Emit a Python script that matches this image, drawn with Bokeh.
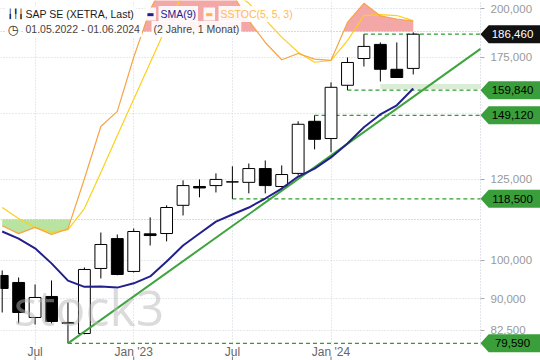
import numpy as np
from bokeh.plotting import figure
from bokeh.models import (Range1d, LinearScale, FixedTicker, NumeralTickFormatter, Label)
from bokeh.core.properties import value
from bokeh.embed import file_html
from bokeh.resources import INLINE

# ---------------- data (monthly candles, May 2022 .. Jun 2024) ----------------
months = ["2022-05", "2022-06", "2022-07", "2022-08", "2022-09", "2022-10", "2022-11",
          "2022-12", "2023-01", "2023-02", "2023-03", "2023-04", "2023-05", "2023-06",
          "2023-07", "2023-08", "2023-09", "2023-10", "2023-11", "2023-12", "2024-01",
          "2024-02", "2024-03", "2024-04", "2024-05", "2024-06"]
opens = [95950, 94120, 85470, 90560, 84300, 81780, 97820, 106200, 97020, 107600, 107700,
         116400, 122600, 122900, 124100, 124000, 128800, 122600, 127100, 146700, 139900,
         162000, 174400, 181300, 169300, 169700]
highs = [97280, 95420, 93600, 94640, 89070, 98090, 108000, 107400, 109200, 112600, 116400,
         124700, 125000, 127100, 129600, 130600, 131700, 129900, 146700, 149120, 163300,
         174900, 186460, 182300, 182300, 187400]
lows = [86650, 84070, 83840, 84070, 79590, 81600, 95160, 96000, 96750, 104200, 105400,
        113200, 119000, 120600, 118500, 120300, 120300, 122300, 126400, 135800, 134700,
        159840, 170600, 163700, 165500, 166900]
closes = [92580, 86650, 90310, 84530, 84100, 97550, 104500, 96220, 108300, 107100, 115700,
          122900, 122100, 125000, 124200, 128800, 122900, 126700, 145500, 139600, 161100,
          172500, 180300, 169300, 165500, 186460]
sma9 = [108300, 106200, 103400, 99200, 94600, 93000, 93100, 92800, 93900, 95700, 99700,
        104200, 107700, 111300, 113500, 115700, 118600, 121900, 126000, 128800, 132800,
        138000, 144300, 149500, 153300, 160600]
stoch_k = [18, 15.5, 17.5, 15.2, 17, 33, 49.7, 54.5, 71.8, 87, 97, 98, 96, 96, 92, 83.5,
           76.5, 71, 73, 71.2, 70.8, 82.9, 89, 85, 84, 83.3]
stoch_d = [23.8, 20.3, 17.5, 15.9, 16.8, 23.5, 35, 46.8, 58.4, 70, 81.7, 92, 96, 95, 93, 89,
           83.8, 78.2, 73.4, 70.2, 70.8, 77.1, 85.1, 85.4, 85.1, 83.5]
stoch_upper, stoch_lower = 80, 20

x_tick_idx = [2, 8, 14, 20]
x_tick_labels = ["Jul", "Jan '23", "Jul", "Jan '24"]
y_label_ticks = [82500, 90000, 100000, 125000, 175000, 200000]
y_grid_ticks = [82500, 90000, 100000, 125000, 150000, 175000, 200000]

levels = [186460, 159840, 149120, 118500, 79590]
level_start = [22, 21, 19, 14, 4]
level_tag_fill = ["#111111", "#3a9e3a", "#3a9e3a", "#3a9e3a", "#3a9e3a"]
level_tag_text = ["white", "black", "black", "black", "black"]

trend_x = [4, 29.09]
trend_y = [79590, 179100]

band_x = [23]
band_lo = [160300]
band_hi = [162600]

# ---------------- figure ----------------
idx = list(range(len(months)))
X_LEFT, X_AXIS, X_MAX = -0.103, 29.09, 32.74
P_LOW, P_AXIS, P_HIGH = 75920, 79130, 204600
ST_LOW, ST_HIGH = -25.0, 89.9
FONT = "Liberation Sans"

p = figure(width=540, height=360, x_range=Range1d(X_LEFT, X_MAX),
           y_range=Range1d(P_LOW, P_HIGH), y_axis_type="log", y_axis_location="right",
           output_backend="svg", toolbar_location=None,
           min_border_left=0, min_border_top=0, min_border_right=0, min_border_bottom=0)
p.outline_line_color = None
p.extra_y_ranges = {"st": Range1d(ST_LOW, ST_HIGH)}
p.extra_y_scales = {"st": LinearScale()}

p.yaxis.fixed_location = X_AXIS
p.yaxis.bounds = (P_AXIS, P_HIGH)
p.yaxis.ticker = FixedTicker(ticks=y_label_ticks)
p.ygrid.ticker = FixedTicker(ticks=y_grid_ticks)
p.yaxis.formatter = NumeralTickFormatter(format="0,0")
p.yaxis.major_label_text_font = FONT
p.yaxis.major_label_text_font_size = "11.5px"
p.yaxis.major_label_text_color = "#999999"
p.yaxis.axis_line_color = "#c4c8d8"
p.yaxis.axis_line_dash = "1 2"
p.yaxis.major_tick_in = 0
p.yaxis.major_tick_out = 4
p.yaxis.major_tick_line_color = "#aaaaaa"
p.yaxis.minor_tick_line_color = None
p.yaxis.major_label_standoff = 6

xt = FixedTicker(ticks=x_tick_idx)
p.xaxis.fixed_location = P_AXIS
p.xaxis.ticker = xt
p.xgrid.ticker = xt
p.xaxis.major_label_overrides = {i: s for i, s in zip(x_tick_idx, x_tick_labels)}
p.xaxis.major_label_text_font = FONT
p.xaxis.major_label_text_font_size = "12px"
p.xaxis.major_label_text_color = "#666666"
p.xaxis.axis_line_color = None
p.xaxis.major_tick_line_color = None
p.xaxis.major_tick_in = 0
p.xaxis.major_tick_out = 0
p.xaxis.minor_tick_line_color = None
p.xaxis.major_label_standoff = 0

for g in (p.xgrid, p.ygrid):
    g.grid_line_color = "#cdd3dd"
    g.grid_line_dash = "1 2"
    g.grid_line_width = 1


def band_polys(xv, yv, level, above):
    px, py, cx, cy = [], [], [], []
    inside = (lambda v: v > level) if above else (lambda v: v < level)
    for i in range(len(xv)):
        if inside(yv[i]):
            if not cx:
                if i > 0:
                    t = (level - yv[i - 1]) / (yv[i] - yv[i - 1])
                    cx.append(xv[i - 1] + t * (xv[i] - xv[i - 1]))
                else:
                    cx.append(xv[i])
                cy.append(level)
            cx.append(xv[i]); cy.append(yv[i])
        elif cx:
            t = (level - yv[i - 1]) / (yv[i] - yv[i - 1])
            cx.append(xv[i - 1] + t * (xv[i] - xv[i - 1])); cy.append(level)
            px.append(cx); py.append(cy); cx, cy = [], []
    if cx:
        cx.append(xv[-1]); cy.append(level)
        px.append(cx); py.append(cy)
    return px, py


# stochastic (overlay scale)
rx, ry = band_polys(idx, stoch_k, stoch_upper, True)
p.patches(rx, ry, y_range_name="st", fill_color="#f08a8a", fill_alpha=0.75, line_color=None)
gx, gy = band_polys(idx, stoch_k, stoch_lower, False)
p.patches(gx, gy, y_range_name="st", fill_color="#a8dc8a", fill_alpha=0.8, line_color=None)
p.hspan(y=[stoch_upper], y_range_name="st", line_color="#92cc92", line_dash="1 2", line_width=1)
p.hspan(y=[stoch_lower], y_range_name="st", line_color="#f29a9a", line_dash="1 2", line_width=1)

# white areas right of the price axis and below the time axis (hide grid there)
p.quad(left=[X_AXIS, X_LEFT], right=[X_MAX, X_MAX], bottom=[P_LOW, P_LOW],
       top=[P_HIGH, P_AXIS], fill_color="white", line_color=None)

# small tick marks along the very bottom edge
p.segment(x0=x_tick_idx, y0=[P_LOW] * len(x_tick_idx), x1=x_tick_idx,
          y1=[P_LOW * np.exp(4 / 363.0)] * len(x_tick_idx), line_color="#777777", line_width=1)

p.line(idx, stoch_d, y_range_name="st", line_color="#ffcf1a", line_width=1.2)
p.line(idx, stoch_k, y_range_name="st", line_color="#f6a445", line_width=1.2)

# support band and level lines
p.quad(left=band_x, right=[X_AXIS], bottom=band_lo, top=band_hi,
       fill_color="#d6ead0", fill_alpha=0.9, line_color=None)
p.segment(x0=level_start, y0=levels, x1=[X_AXIS] * len(levels), y1=levels,
          line_color="#2f9e2f", line_dash="4 3", line_width=1.2)

# candles
inc = [i for i in idx if closes[i] >= opens[i]]
dec = [i for i in idx if closes[i] < opens[i]]
p.segment(x0=idx, y0=highs, x1=idx, y1=lows, line_color="black", line_width=1)
p.vbar(x=inc, width=0.72, top=[closes[i] for i in inc], bottom=[opens[i] for i in inc],
       fill_color="white", line_color="black", line_width=1)
p.vbar(x=dec, width=0.72, top=[opens[i] for i in dec], bottom=[closes[i] for i in dec],
       fill_color="black", line_color="black", line_width=1)

# trend line and SMA
p.line(trend_x, trend_y, line_color="#3ea43e", line_width=2)
p.line(idx, sma9, line_color="#23208e", line_width=2)

# right-side price tags
f = np.exp(9 / 363.0)
tag_xs = [[X_AXIS, X_AXIS + 0.5, X_MAX, X_MAX, X_AXIS + 0.5] for _ in levels]
tag_ys = [[lv, lv * f, lv * f, lv / f, lv / f] for lv in levels]
p.patches(tag_xs, tag_ys, fill_color=level_tag_fill, line_color=None)
p.text(x=[X_AXIS] * len(levels), y=levels, text=[f"{lv:,}" for lv in levels],
       x_offset=32, text_align="center", text_baseline="middle",
       text_color=level_tag_text, text_font=value(FONT), text_font_size="11.5px")

# watermark
p.add_layout(Label(x=0.7, y=87900, text="stock3", text_font="Open Sans",
                   text_font_size="50px", text_color="#b8b8b8", text_alpha=0.5,
                   text_baseline="alphabetic"))

# legend (top-left), screen units from the frame's bottom-left corner
HF = 360
legend_items = [
    (5, 13.5, "╽╿╽", "#111111", "9px", "DejaVu Sans"),
    (23, 13.5, "SAP SE (XETRA, Last)", "#1a1a1a", "10.5px", FONT),
    (144, 13.5, "▬", "#23208e", "8px", "DejaVu Sans"),
    (158, 13.5, "SMA(9)", "#23208e", "10.5px", FONT),
    (203, 13.5, "▬", "#ffb444", "8px", "DejaVu Sans"),
    (218, 13.5, "SSTOC(5, 5, 3)", "#ffb95a", "10.5px", FONT),
    (5, 28.5, "◷", "#333333", "13px", "DejaVu Sans"),
    (23, 28.5, "01.05.2022 - 01.06.2024", "#444444", "10.5px", FONT),
    (151, 28.5, "(2 Jahre, 1 Monat)", "#444444", "10.5px", FONT),
]
for lx, ly, txt, col, fs, fnt in legend_items:
    p.add_layout(Label(x=lx, y=HF - ly, x_units="screen", y_units="screen", text=txt,
                       text_color=col, text_font=fnt, text_font_size=fs,
                       text_baseline="middle", text_align="left",
                       background_fill_color="white", background_fill_alpha=0.9,
                       padding=2))

open("out.html", "w").write(file_html(p, INLINE))
